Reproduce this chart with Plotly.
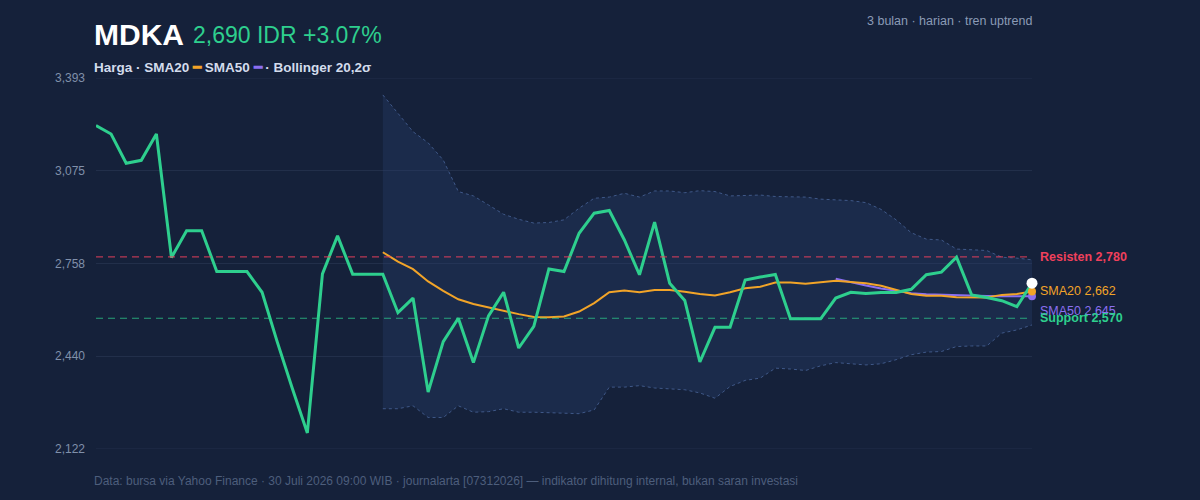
import plotly.graph_objects as go

# ---- data ----
price = [3230, 3201, 3101, 3111, 3201, 2778, 2870, 2870, 2730, 2730,
         2730, 2659, 2490, 2330, 2177, 2722, 2852, 2721, 2721, 2721,
         2589, 2639, 2317, 2490, 2570, 2418, 2578, 2659, 2468, 2542,
         2739, 2730, 2861, 2930, 2939, 2838, 2719, 2899, 2690, 2631,
         2420, 2539, 2539, 2701, 2711, 2720, 2568, 2568, 2568, 2639,
         2659, 2655, 2658, 2658, 2669, 2719, 2728, 2779, 2650, 2641,
         2630, 2610, 2690]

sma20_start = 19
sma20 = [2796, 2764, 2738, 2696, 2664, 2635, 2619, 2607, 2595, 2584,
         2574, 2573, 2576, 2593, 2622, 2659, 2665, 2659, 2667, 2667,
         2661, 2653, 2648, 2659, 2673, 2678, 2692, 2692, 2688, 2692,
         2698, 2694, 2690, 2681, 2667, 2653, 2647, 2647, 2642, 2641,
         2641, 2650, 2653, 2662]

sma50_start = 49
sma50 = [2705, 2693, 2682, 2672, 2664, 2656, 2652, 2650, 2648, 2647,
         2646, 2645, 2644, 2645]

bb_upper = [3335, 3272, 3209, 3171, 3112, 3004, 2989, 2958, 2926, 2909,
            2896, 2898, 2907, 2947, 2981, 2985, 2998, 2985, 3006, 3006,
            3000, 3007, 3004, 2989, 2990, 2992, 2987, 2985, 2985, 2978,
            2975, 2973, 2966, 2943, 2907, 2863, 2841, 2838, 2807, 2804,
            2802, 2779, 2776, 2770]
bb_lower = [2260, 2260, 2270, 2230, 2230, 2270, 2248, 2250, 2260, 2248,
            2248, 2247, 2245, 2243, 2256, 2334, 2334, 2339, 2331, 2327,
            2325, 2314, 2296, 2336, 2357, 2365, 2399, 2396, 2391, 2407,
            2418, 2414, 2410, 2414, 2428, 2445, 2454, 2456, 2473, 2475,
            2475, 2519, 2530, 2547]

resistance = 2780
support = 2570
y_ticks = [2122, 2440, 2758, 3075, 3393]
y_tick_text = ["2,122", "2,440", "2,758", "3,075", "3,393"]

ticker = "MDKA"
last_text = "2,690 IDR +3.07%"

# ---- styles ----
BG = "#15213a"
GREEN = "#2ecf8e"
ORANGE = "#f2a428"
PURPLE = "#8b6ff0"
RED = "#f0405c"
GRID = "#222f4a"
FONT = "Liberation Sans, Arial, sans-serif"

x_all = list(range(len(price)))
x20 = list(range(sma20_start, sma20_start + len(sma20)))
x50 = list(range(sma50_start, sma50_start + len(sma50)))

fig = go.Figure()

# edge gridlines (top / bottom of the value range)
for v in (y_ticks[0], y_ticks[-1]):
    fig.add_shape(type="line", xref="paper", x0=0, x1=1, yref="y", y0=v, y1=v,
                  line=dict(color=GRID, width=1), layer="below")

fig.add_trace(go.Scatter(x=x20, y=bb_upper, mode="lines",
                         line=dict(color="#3f5888", width=1, dash="3px,3px"),
                         hoverinfo="skip", showlegend=False))
fig.add_trace(go.Scatter(x=x20, y=bb_lower, mode="lines",
                         line=dict(color="#3f5888", width=1, dash="3px,3px"),
                         fill="tonexty", fillcolor="rgba(40,62,108,0.35)",
                         hoverinfo="skip", showlegend=False))

fig.add_shape(type="line", xref="paper", x0=0, x1=1, yref="y",
              y0=resistance, y1=resistance,
              line=dict(color="rgba(240,64,92,0.75)", width=1.2, dash="7px,5px"))
fig.add_shape(type="line", xref="paper", x0=0, x1=1, yref="y",
              y0=support, y1=support,
              line=dict(color="rgba(46,207,142,0.75)", width=1.2, dash="7px,5px"))

fig.add_trace(go.Scatter(x=x50, y=sma50, mode="lines",
                         line=dict(color=PURPLE, width=2),
                         hoverinfo="skip", showlegend=False))
fig.add_trace(go.Scatter(x=x20, y=sma20, mode="lines",
                         line=dict(color=ORANGE, width=2),
                         hoverinfo="skip", showlegend=False))
fig.add_trace(go.Scatter(x=x_all, y=price, mode="lines",
                         line=dict(color=GREEN, width=3),
                         showlegend=False))

# end markers
fig.add_trace(go.Scatter(x=[x50[-1]], y=[sma50[-1]], mode="markers", cliponaxis=False,
                         marker=dict(color=PURPLE, size=8), showlegend=False))
fig.add_trace(go.Scatter(x=[x20[-1]], y=[sma20[-1]], mode="markers", cliponaxis=False,
                         marker=dict(color=ORANGE, size=8), showlegend=False))
fig.add_trace(go.Scatter(x=[x_all[-1]], y=[price[-1]], mode="markers", cliponaxis=False,
                         marker=dict(color="#ffffff", size=11), showlegend=False))

annotations = [
    dict(xref="paper", yref="y", x=1, y=resistance, xanchor="left", yanchor="middle",
         xshift=6, text="<b>Resisten 2,780</b>", showarrow=False,
         font=dict(color=RED, size=12.5, family=FONT)),
    dict(xref="paper", yref="y", x=1, y=sma20[-1], xanchor="left", yanchor="middle",
         xshift=6, text="SMA20 2,662", showarrow=False,
         font=dict(color=ORANGE, size=12.5, family=FONT)),
    dict(xref="paper", yref="y", x=1, y=sma50[-1], xanchor="left", yanchor="middle",
         xshift=6, yshift=-15, text="SMA50 2,645", showarrow=False,
         font=dict(color=PURPLE, size=12.5, family=FONT)),
    dict(xref="paper", yref="y", x=1, y=support, xanchor="left", yanchor="middle",
         xshift=6, text="<b>Support 2,570</b>", showarrow=False,
         font=dict(color=GREEN, size=12.5, family=FONT)),
    dict(xref="paper", yref="paper", x=0, y=1, xanchor="left", yanchor="bottom",
         xshift=-4, yshift=25, text="<b>" + ticker + "</b>", showarrow=False,
         font=dict(color="#ffffff", size=30, family=FONT)),
    dict(xref="paper", yref="paper", x=0, y=1, xanchor="left", yanchor="bottom",
         xshift=95, yshift=28, text=last_text, showarrow=False,
         font=dict(color=GREEN, size=23, family=FONT)),
    dict(xref="paper", yref="paper", x=0, y=1, xanchor="left", yanchor="bottom",
         xshift=-4, yshift=1,
         text="<b>Harga · SMA20 <span style='color:%s'>━</span> SMA50 "
              "<span style='color:%s'>━</span> · Bollinger 20,2σ</b>" % (ORANGE, PURPLE),
         showarrow=False, font=dict(color="#d3dcec", size=13.5, family=FONT)),
    dict(xref="paper", yref="paper", x=1, y=1, xanchor="right", yanchor="bottom",
         xshift=2, yshift=48, text="3 bulan · harian · tren uptrend", showarrow=False,
         font=dict(color="#8b9bb6", size=12.5, family=FONT)),
    dict(xref="paper", yref="paper", x=0, y=0, xanchor="left", yanchor="top",
         xshift=-4, yshift=-23,
         text="Data: bursa via Yahoo Finance · 30 Juli 2026 09:00 WIB · journalarta [07312026] — indikator dihitung internal, bukan saran investasi",
         showarrow=False, font=dict(color="#4d5e7c", size=12, family=FONT)),
]

fig.update_layout(
    width=1200, height=500,
    paper_bgcolor=BG, plot_bgcolor=BG,
    margin=dict(l=96, r=168, t=78, b=51),
    showlegend=False,
    annotations=annotations,
    font=dict(family=FONT, color="#8090aa", size=12),
    xaxis=dict(range=[0, len(price) - 1], showgrid=False, zeroline=False,
               showticklabels=False, showline=False, fixedrange=True),
    yaxis=dict(range=[y_ticks[0], y_ticks[-1]], tickvals=y_ticks, ticktext=y_tick_text,
               showgrid=True, gridcolor=GRID, gridwidth=1, zeroline=False,
               showline=False, ticks="", ticklabelstandoff=10,
               tickfont=dict(color="#8090aa", size=12, family=FONT)),
)

fig.write_html("out.html")
